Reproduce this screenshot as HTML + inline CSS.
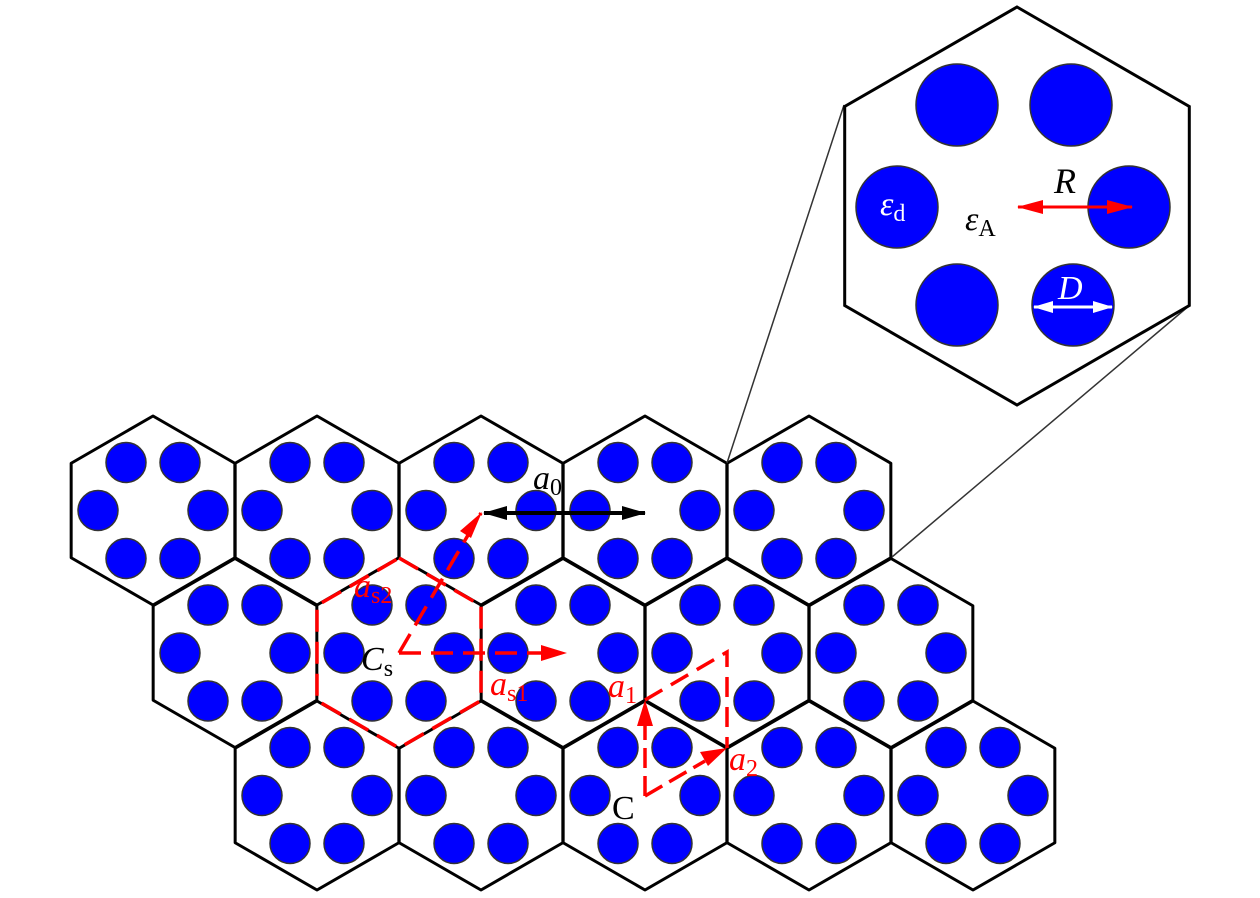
<!DOCTYPE html>
<html><head><meta charset="utf-8">
<style>
html,body{margin:0;padding:0;background:#fff;}
svg{display:block;}
text{font-family:"Liberation Serif","DejaVu Serif",serif;}
</style></head>
<body>
<svg width="1260" height="898" viewBox="0 0 1260 898" xmlns="http://www.w3.org/2000/svg">
<defs>
<marker id="rhb" markerWidth="26" markerHeight="14" refX="25" refY="7" orient="auto" markerUnits="userSpaceOnUse" viewBox="0 0 26 14"><path d="M0,0 L26,7 L0,14 z" fill="#f00"/></marker>
<marker id="rhs" markerWidth="26" markerHeight="14" refX="1" refY="7" orient="auto" markerUnits="userSpaceOnUse" viewBox="0 0 26 14"><path d="M26,0 L0,7 L26,14 z" fill="#f00"/></marker>
<marker id="bh" markerWidth="24" markerHeight="14" refX="23" refY="7" orient="auto" markerUnits="userSpaceOnUse" viewBox="0 0 24 14"><path d="M0,0 L24,7 L0,14 z" fill="#000"/></marker>
<marker id="bhs" markerWidth="24" markerHeight="14" refX="1" refY="7" orient="auto" markerUnits="userSpaceOnUse" viewBox="0 0 24 14"><path d="M24,0 L0,7 L24,14 z" fill="#000"/></marker>
<marker id="wh" markerWidth="20" markerHeight="12" refX="19" refY="6" orient="auto" markerUnits="userSpaceOnUse" viewBox="0 0 20 12"><path d="M0,0 L20,6 L0,12 z" fill="#fff"/></marker>
<marker id="whs" markerWidth="20" markerHeight="12" refX="1" refY="6" orient="auto" markerUnits="userSpaceOnUse" viewBox="0 0 20 12"><path d="M20,0 L0,6 L20,12 z" fill="#fff"/></marker>
</defs>
<g id="lattice"></g>
<line x1="844" y1="105" x2="727" y2="463" stroke="#333" stroke-width="1.5"/>
<line x1="1190" y1="305" x2="892" y2="557" stroke="#333" stroke-width="1.5"/>
<polygon points="1017,7 1189.3,106.5 1189.3,305.5 1017,405 844.7,305.5 844.7,106.5" fill="#fff" stroke="#000" stroke-width="3"/>
<g fill="#0000ff" stroke="#333" stroke-width="1.5">
<circle cx="957" cy="105" r="41"/><circle cx="1071" cy="105" r="41"/>
<circle cx="897" cy="207" r="41"/><circle cx="1129" cy="207" r="41"/>
<circle cx="957" cy="305" r="41"/><circle cx="1073" cy="305" r="41"/>
</g>
<line x1="1018" y1="207" x2="1132" y2="207" stroke="#f00" stroke-width="3" marker-start="url(#rhs)" marker-end="url(#rhb)"/>
<text x="1054" y="193" font-size="36" font-style="italic">R</text>
<text x="965" y="230" font-size="34" font-style="italic">ε<tspan font-size="24" font-style="normal" dy="6">A</tspan></text>
<text x="880" y="215" font-size="34" font-style="italic" fill="#fff">ε<tspan font-size="24" font-style="normal" dy="6">d</tspan></text>
<line x1="1034" y1="307" x2="1112" y2="307" stroke="#fff" stroke-width="3" marker-start="url(#whs)" marker-end="url(#wh)"/>
<text x="1058" y="299" font-size="34" font-style="italic" fill="#fff">D</text>
<line x1="563" y1="498" x2="563" y2="518" stroke="#000" stroke-width="3"/>
<line x1="484" y1="513" x2="645" y2="513" stroke="#000" stroke-width="4" marker-start="url(#bhs)" marker-end="url(#bh)"/>
<text x="533" y="489" font-size="34" font-style="italic">a<tspan font-size="24" font-style="normal" dy="6">0</tspan></text>
<polygon points="399,558 481,605.5 481,700.5 399,748 317,700.5 317,605.5" fill="none" stroke="#f00" stroke-width="3.5" stroke-dasharray="22,10"/>
<polyline points="399,653 481,513" fill="none" stroke="#f00" stroke-width="3.5" stroke-dasharray="22,10"/>
<path d="M482,512 L471,538 L460,531 z" fill="#f00"/>
<line x1="399" y1="653" x2="545" y2="653" stroke="#f00" stroke-width="3.5" stroke-dasharray="22,10"/>
<path d="M567,653 L541,645 L541,661 z" fill="#f00"/>
<text x="354" y="597" font-size="34" font-style="italic" fill="#f00">a<tspan font-size="24" font-style="normal" dy="6">s2</tspan></text>
<text x="361" y="670" font-size="34" font-style="italic">C<tspan font-size="24" font-style="normal" dy="6">s</tspan></text>
<text x="490" y="695" font-size="34" font-style="italic" fill="#f00">a<tspan font-size="24" font-style="normal" dy="6">s1</tspan></text>
<polyline points="645,700 727,652 727,748" fill="none" stroke="#f00" stroke-width="3.5" stroke-dasharray="20,10"/>
<line x1="645" y1="796" x2="645" y2="725" stroke="#f00" stroke-width="3.5" stroke-dasharray="20,8"/>
<path d="M645,700 L637,726 L653,726 z" fill="#f00"/>
<line x1="645" y1="796" x2="705" y2="761" stroke="#f00" stroke-width="3.5" stroke-dasharray="20,8"/>
<path d="M727,748 L700,752 L708,766 z" fill="#f00"/>
<text x="608" y="697" font-size="34" font-style="italic" fill="#f00">a<tspan font-size="24" font-style="normal" dy="6">1</tspan></text>
<text x="729" y="770" font-size="34" font-style="italic" fill="#f00">a<tspan font-size="24" font-style="normal" dy="6">2</tspan></text>
<text x="612" y="819" font-size="34">C</text>
<script>
(function(){
var g=document.getElementById('lattice');var ns='http://www.w3.org/2000/svg';
var R=94.5,W=R*Math.sqrt(3)/2;
var cells=[];
[153,317,481,645,809].forEach(function(x){cells.push([x,510.5]);});
[235,399,563,727,891].forEach(function(x){cells.push([x,653]);});
[317,481,645,809,973].forEach(function(x){cells.push([x,795.5]);});
cells.forEach(function(c){
 var x=c[0],y=c[1];
 var p=[[x,y-R],[x+W,y-R/2],[x+W,y+R/2],[x,y+R],[x-W,y+R/2],[x-W,y-R/2]];
 var red=(x==399&&y==653);
 if(!red){var pg=document.createElementNS(ns,'polygon');
 pg.setAttribute('points',p.map(function(q){return q.join(',');}).join(' '));
 pg.setAttribute('fill','none');pg.setAttribute('stroke','#000');pg.setAttribute('stroke-width','3');pg.setAttribute('stroke-linejoin','round');g.appendChild(pg);}
 [[-27,-48],[27,-48],[-55,0],[55,0],[-27,48],[27,48]].forEach(function(o){
  var ci=document.createElementNS(ns,'circle');ci.setAttribute('cx',x+o[0]);ci.setAttribute('cy',y+o[1]);ci.setAttribute('r',20);
  ci.setAttribute('fill','#0000ff');ci.setAttribute('stroke','#333');ci.setAttribute('stroke-width','1.5');g.appendChild(ci);});
});
})();
</script>
</svg>
</body></html>
